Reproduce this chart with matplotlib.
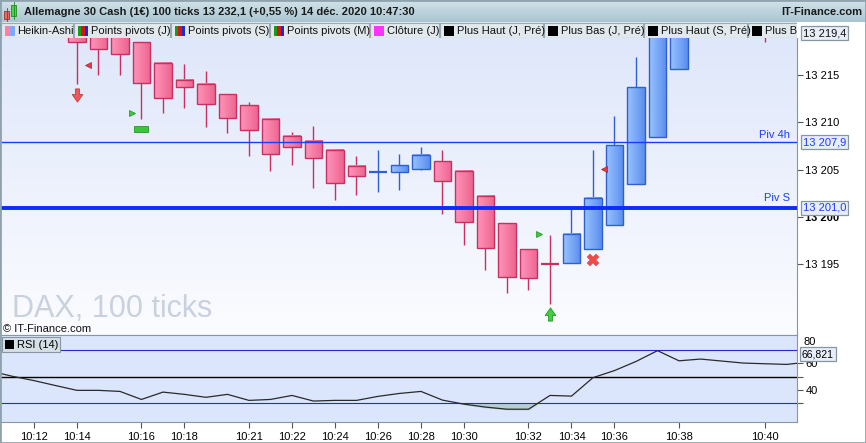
import matplotlib
matplotlib.use("Agg")
import matplotlib.pyplot as plt
import matplotlib.transforms as mtransforms
import numpy as np
from matplotlib.colors import LinearSegmentedColormap
from matplotlib.patches import Rectangle
from matplotlib.path import Path

plt.rcParams["font.family"] = ["Liberation Sans", "DejaVu Sans"]

# ---- data (x = candle number, 100-tick bars) ----
candle_idx = list(range(0, 35))
ha_open = [13226.0, 13225.0, 13221.5, 13220.5, 13219.8, 13218.5, 13216.3, 13214.5, 13214.1, 13213.0,
           13211.8, 13210.4, 13208.6, 13208.0, 13207.1, 13205.4, 13204.8, 13204.8, 13205.1, 13205.9,
           13204.9, 13202.2, 13199.4, 13196.6, 13195.05, 13195.1, 13196.6, 13199.2, 13203.5, 13208.5,
           13215.6, 13221.0, 13225.0, 13229.0, 13233.0]
ha_close = [13224.0, 13222.0, 13218.5, 13217.7, 13217.2, 13214.2, 13212.6, 13213.7, 13211.9, 13210.5,
            13209.2, 13206.7, 13207.4, 13206.2, 13203.6, 13204.3, 13204.85, 13205.5, 13206.6, 13203.8,
            13199.5, 13196.7, 13193.7, 13193.6, 13195.0, 13198.2, 13202.0, 13207.6, 13213.7, 13222.0,
            13226.0, 13230.0, 13233.0, 13234.0, 13231.0]
ha_high = [13227.0, 13226.0, 13222.0, 13221.0, 13220.5, 13218.5, 13216.3, 13216.2, 13215.4, 13213.0,
           13212.2, 13210.4, 13209.0, 13209.6, 13207.1, 13206.4, 13207.1, 13206.7, 13207.4, 13207.1,
           13204.9, 13202.2, 13199.4, 13196.6, 13198.1, 13200.9, 13207.1, 13210.7, 13216.9, 13224.0,
           13228.0, 13232.0, 13234.0, 13235.0, 13235.0]
ha_low = [13222.0, 13220.5, 13214.1, 13215.0, 13215.0, 13210.4, 13211.0, 13211.5, 13209.5, 13208.9,
          13206.4, 13204.9, 13205.5, 13203.1, 13201.8, 13202.3, 13202.6, 13202.9, 13205.0, 13200.3,
          13197.0, 13194.4, 13192.0, 13192.3, 13190.8, 13195.1, 13196.6, 13199.2, 13203.5, 13208.5,
          13215.6, 13221.0, 13224.0, 13228.0, 13218.5]

tick_idx = [0, 2, 5, 7, 10, 12, 14, 16, 18, 20, 23, 25, 27, 30, 34]
tick_labels = ["10:12", "10:14", "10:16", "10:18", "10:21", "10:22", "10:24", "10:26",
               "10:28", "10:30", "10:32", "10:34", "10:36", "10:38", "10:40"]

rsi_idx = list(range(-2, 37))
rsi_vals = [54.0, 50.2, 47.0, 43.3, 39.7, 39.7, 38.9, 32.9, 38.4, 36.7, 34.5, 36.7, 32.2, 32.9,
            35.9, 31.7, 32.2, 32.2, 35.2, 37.4, 38.9, 32.4, 29.4, 27.2, 25.6, 25.6, 35.9, 35.4,
            49.2, 54.5, 61.3, 69.4, 61.8, 63.1, 61.6, 60.1, 59.6, 59.1, 60.8]

piv_4h = 13207.9
piv_s = 13201.0
last_box = 13219.4
rsi_last = 66.821

sell_arrow = (2, 13212.9)
buy_arrow = (24, 13189.8)
red_tri = [(2.5, 13216.1), (26.5, 13205.1)]
green_tri = [(4.56, 13211.0), (23.5, 13198.2)]
green_block = (5, 13209.3)
red_cross = (26, 13195.5)

tabs = [("Heikin-Ashi", 0, 74, "ha"), ("Points pivots (J)", 74, 171, "pp"),
        ("Points pivots (S)", 171, 270, "pp"), ("Points pivots (M)", 270, 370, "pp"),
        ("Clôture (J)", 370, 440, "mag"), ("Plus Haut (J, Pré)", 440, 544, "blk"),
        ("Plus Bas (J, Pré)", 544, 644, "blk"), ("Plus Haut (S, Pré)", 644, 748, "blk"),
        ("Plus B", 748, 860, "blk")]

W, H = 866, 443
GRAY = "#8796a3"


def rect(x0, y0, x1, y1):
    return [x0 / W, 1 - y1 / H, (x1 - x0) / W, (y1 - y0) / H]


def sp(v, dec=None):
    s = f"{v:,.{dec}f}" if dec else f"{int(round(v)):,}"
    return s.replace(",", " ").replace(".", ",") if dec else s.replace(",", " ")


fig = plt.figure(figsize=(W / 100, H / 100), dpi=100)
fig.patch.set_facecolor("white")

# ---- title bar ----
tb = fig.add_axes(rect(0, 0, W, 22))
tb.imshow(np.linspace(0, 1, 50).reshape(-1, 1), aspect="auto", extent=[0, W, 22, 0],
          cmap=LinearSegmentedColormap.from_list("tb", ["#d3e3e9", "#a9c5d1"]))
tb.set_xlim(0, W)
tb.set_ylim(22, 0)
tb.axis("off")
tb.add_patch(Rectangle((4, 11), 5, 8, fc="#e46a6a", ec="#a03030", lw=0.6))
tb.plot([6.5, 6.5], [8, 21], color="#a03030", lw=0.6)
tb.add_patch(Rectangle((11, 5), 5, 11, fc="#44d844", ec="#208a20", lw=0.6))
tb.plot([13.5, 13.5], [2, 19], color="#208a20", lw=0.6)
tb.text(24, 12, "Allemagne 30 Cash (1€) 100 ticks 13 232,1 (+0,55 %) 14 déc. 2020 10:47:30",
        fontsize=8, fontweight="bold", va="center", ha="left", color="#1a1a1a")
tb.text(862, 12, "IT-Finance.com", fontsize=8, fontweight="bold", va="center", ha="right",
        color="#1a1a1a")

# ---- price panel ----
ax = fig.add_axes(rect(0, 38, 797, 335))
xlim = ((0 - 34) / 21.5, (797 - 34) / 21.5)
ylim = (13215 - 260 / 9.47, 13215 + 37 / 9.47)
ax.imshow(np.linspace(0, 1, 100).reshape(-1, 1), aspect="auto", zorder=0,
          extent=[xlim[0], xlim[1], ylim[1], ylim[0]],
          cmap=LinearSegmentedColormap.from_list("bg", ["#fbfcff", "#dfe7fa"]))

pink_cm = LinearSegmentedColormap.from_list("pk", ["#ff94ba", "#ee6590"])
blue_cm = LinearSegmentedColormap.from_list("bl", ["#98c2ff", "#5c8fee"])
hgrad = np.linspace(0, 1, 20).reshape(1, -1)
w = 0.82
for i, o, c, h, l in zip(candle_idx, ha_open, ha_close, ha_high, ha_low):
    bull = c > o
    wick = "#2f5fd0" if bull else "#c8305f"
    ax.vlines(i, l, h, color=wick, lw=1.0, zorder=2)
    lo, hi = min(o, c), max(o, c)
    if hi - lo < 0.15:
        ax.hlines(lo, i - w / 2, i + w / 2, color=wick, lw=1.6, zorder=3)
        continue
    ax.add_patch(Rectangle((i - w / 2, lo), w, hi - lo, fc="none", ec=wick, lw=1.0, zorder=4))
    # gradient fill, kept inside the visible price range
    lo_v, hi_v = max(lo, ylim[0]), min(hi, ylim[1])
    if hi_v > lo_v:
        ax.imshow(hgrad, aspect="auto", zorder=3, cmap=blue_cm if bull else pink_cm,
                  extent=[i - w / 2, i + w / 2, lo_v, hi_v])

ax.axhline(piv_4h, color="#1a3cff", lw=1.0, zorder=5)
ax.axhline(piv_s, color="#0a2cff", lw=2.8, zorder=5)
ax.annotate("Piv 4h", (1, piv_4h), xycoords=("axes fraction", "data"), xytext=(-5, 1.5),
            textcoords="offset points", ha="right", va="bottom", fontsize=8, color="#1a3cff")
ax.annotate("Piv S", (1, piv_s), xycoords=("axes fraction", "data"), xytext=(-5, 3),
            textcoords="offset points", ha="right", va="bottom", fontsize=8, color="#1a3cff")

down = Path([(-0.3, 1), (0.3, 1), (0.3, 0.15), (0.8, 0.15), (0, -1), (-0.8, 0.15), (-0.3, 0.15), (-0.3, 1)])
up = Path([(-0.3, -1), (0.3, -1), (0.3, -0.15), (0.8, -0.15), (0, 1), (-0.8, -0.15), (-0.3, -0.15), (-0.3, -1)])
block = Path([(-1, -0.45), (1, -0.45), (1, 0.45), (-1, 0.45), (-1, -0.45)])
ax.plot(*sell_arrow, marker=down, ms=9.5, mfc="#ee5a5a", mec="#cc3838", mew=0.6, zorder=6)
ax.plot(*buy_arrow, marker=up, ms=9.5, mfc="#44cc44", mec="#229922", mew=0.6, zorder=6)
ax.plot(*zip(*red_tri), ls="none", marker="<", ms=4.5, mfc="#e03a4a", mec="#b02030", mew=0.5, zorder=6)
ax.plot(*zip(*green_tri), ls="none", marker=">", ms=4.5, mfc="#3ccc3c", mec="#1a901a", mew=0.5, zorder=6)
ax.plot(*green_block, marker=block, ms=9.5, mfc="#3cc43c", mec="#239a23", mew=0.6, zorder=6)
ax.plot(*red_cross, marker="X", ms=8, mfc="#ee4c4c", mec="#e04040", mew=0.3, zorder=6)

ax.text(12 / 797, 18 / 297, "DAX, 100 ticks", transform=ax.transAxes, fontsize=22,
        color="#c9d1df", ha="left", va="baseline", zorder=1)
ax.text(3 / 797, 6 / 297, "© IT-Finance.com", transform=ax.transAxes, fontsize=8,
        color="#111111", ha="left", va="center", zorder=7)

ax.set_xlim(*xlim)
ax.set_ylim(*ylim)
ax.set_xticks([])
ax.yaxis.tick_right()
yt = [13195, 13200, 13205, 13210, 13215]
ax.set_yticks(yt)
ax.set_yticklabels([sp(v) for v in yt])
ax.get_yticklabels()[1].set_fontweight("bold")
ax.tick_params(axis="y", direction="out", length=4, width=0.8, color="#555555",
               labelsize=8, pad=2)
for s in ("left", "right", "bottom"):
    ax.spines[s].set_color(GRAY)
ax.spines["top"].set_visible(False)

blend = mtransforms.blended_transform_factory(ax.transAxes, ax.transData)
box = dict(boxstyle="square,pad=0.18", fc="#e8eef8", ec=GRAY, lw=0.9)
for v, txt, col in [(last_box, sp(last_box, 1), "#111111"),
                    (piv_4h, sp(piv_4h, 1), "#1a3cff"),
                    (piv_s, sp(piv_s, 1), "#1a3cff")]:
    ax.text(803 / 797, v, txt, transform=blend, fontsize=8, color=col, ha="left",
            va="center", bbox=box, clip_on=False, zorder=8)

# ---- legend tabs ----
lg = fig.add_axes(rect(0, 22, 797, 38))
lg.set_xlim(0, 797)
lg.set_ylim(38, 22)
lg.axis("off")
lg.add_patch(Rectangle((0, 22), 797, 16, fc="#dfe7eb", ec="none"))
for name, x0, x1, kind in tabs:
    lg.add_patch(Rectangle((x0 + 0.5, 22.5), x1 - x0 - 1, 15, fc="#e2e9ed", ec="#9aaab4", lw=0.8))
    if kind == "ha":
        lg.add_patch(Rectangle((x0 + 5, 25.5), 5, 10, fc="#ff7fa8", ec="none"))
        lg.add_patch(Rectangle((x0 + 10, 25.5), 5, 10, fc="#7fa8ff", ec="none"))
    elif kind == "pp":
        for k, col in enumerate(["#1a9a1a", "#e01010", "#1030e0"]):
            lg.add_patch(Rectangle((x0 + 4 + k * 3.5, 25.5), 3.5, 10, fc=col, ec="none"))
    elif kind == "mag":
        lg.add_patch(Rectangle((x0 + 4, 25.5), 10, 10, fc="#ff33ff", ec="none"))
    else:
        lg.add_patch(Rectangle((x0 + 4, 25.5), 10, 10, fc="#000000", ec="none"))
    lg.text(x0 + 17, 30.5, name, fontsize=8, va="center", ha="left", color="#111111", clip_on=True)

# ---- RSI panel ----
rx = fig.add_axes(rect(0, 335, 797, 422))
rx.set_facecolor("#dbe5fb")
rx.plot(rsi_idx, rsi_vals, color="#2a2a2a", lw=0.9, zorder=4)
rx.fill_between(rsi_idx, rsi_vals, 30, where=np.array(rsi_vals) < 30, interpolate=True,
                color="#b6d0d2", zorder=2)
rx.axhline(70, color="#2828d8", lw=0.8, zorder=3)
rx.axhline(30, color="#2828d8", lw=0.8, zorder=3)
rx.axhline(50, color="#000000", lw=1.0, zorder=3)
rx.set_xlim(*xlim)
rx.set_ylim(50 - 45 / 1.325, 50 + 41.2 / 1.325)
rx.yaxis.tick_right()
rx.set_yticks([40, 60])
rx.set_yticks([30, 50], minor=True)
rx.tick_params(axis="y", which="both", direction="out", length=4, width=0.8, color="#555555",
               labelsize=8, pad=2)
rx.set_xticks(tick_idx)
rx.set_xticklabels(tick_labels)
rx.tick_params(axis="x", direction="out", length=4, width=0.8, color="#555555", labelsize=8, pad=3)
for s in rx.spines.values():
    s.set_color(GRAY)
rblend = mtransforms.blended_transform_factory(rx.transAxes, rx.transData)
rx.text(803 / 797, 75.6, "80", transform=rblend, fontsize=8, ha="left", va="center", clip_on=False)
rx.text(802 / 797, rsi_last, sp(rsi_last, 3), transform=rblend, fontsize=7.5, ha="left",
        va="center", bbox=dict(boxstyle="square,pad=0.18", fc="#e8eef8", ec=GRAY, lw=0.9),
        clip_on=False, zorder=8)

rx.add_patch(Rectangle((2 / 797, 1 - 17 / 87), 58 / 797, 15 / 87, transform=rx.transAxes,
                       fc="#d5e0e6", ec=GRAY, lw=0.8, zorder=9, clip_on=False))
rx.add_patch(Rectangle((5 / 797, 1 - 14 / 87), 9 / 797, 9 / 87, transform=rx.transAxes,
                       fc="#000000", ec="none", zorder=10, clip_on=False))
rx.text(17 / 797, 1 - 9.5 / 87, "RSI (14)", transform=rx.transAxes, fontsize=8, ha="left",
        va="center", zorder=10)

fig.patches.append(Rectangle((0, 0), 1, 1, transform=fig.transFigure, fill=False,
                             ec="#8fa3ae", lw=2))

fig.savefig("out.png", dpi=100)
